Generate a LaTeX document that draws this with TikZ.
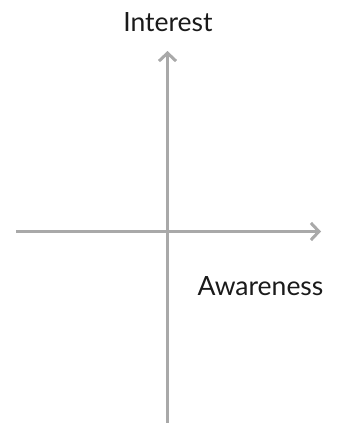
\documentclass[tikz,border=0pt]{standalone}
\usepackage{fontspec}
\setmainfont{Lato}
\usepackage{xcolor}
\usepackage{tikz}
\usetikzlibrary{
  arrows.meta,
  positioning,
}
\definecolor{axisgray}{HTML}{A9A9A9}
\definecolor{labelink}{HTML}{1A1A1A}

\begin{document}
\begin{tikzpicture}[
    x=1pt, y=-1pt,
    axis/.style={draw=axisgray, line width=3pt,
                 -{Straight Barb[length=8pt, width=17pt, line width=3pt]}},
    axislabel/.style={text=labelink, font=\fontsize{26.5}{30}\selectfont,
                      inner sep=0pt},
  ]
  \useasboundingbox (0,0) rectangle (345,423);

  \coordinate (origin) at (167.5,231.5);
  \coordinate (xstart) at (16,231.5);
  \coordinate (xend)   at (321,231.5);
  \coordinate (ystart) at (167.5,423);
  \coordinate (yend)   at (167.5,51);

  \draw[axis] (xstart) -- (xend);
  \draw[axis] (ystart) -- (yend);

  \node[axislabel] (interest)  at (168,22)    {Interest};
  \node[axislabel] (awareness) at (260.5,286.5) {Awareness};
\end{tikzpicture}
\end{document}
